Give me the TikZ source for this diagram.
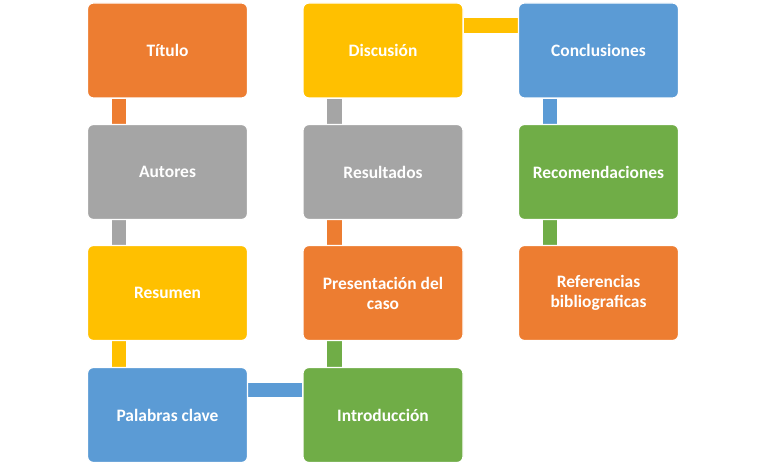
\documentclass[tikz,border=0pt]{standalone}
\usepackage{fontspec}
\setmainfont{Carlito}
\usetikzlibrary{backgrounds,calc}
\definecolor{cOrange}{HTML}{ED7D31}
\definecolor{cGray}{HTML}{A5A5A5}
\definecolor{cYellow}{HTML}{FFC000}
\definecolor{cBlue}{HTML}{5B9BD5}
\definecolor{cGreen}{HTML}{70AD47}
\tikzset{
  box/.style={rectangle, rounded corners=6bp, draw=white, line width=1.2bp,
    minimum width=160bp, minimum height=95bp, inner sep=2bp,
    text=white, align=center, font=\fontsize{17.5}{20}\selectfont\bfseries},
  link/.style={line width=14.5bp, line cap=butt}
}
\begin{document}
\begin{tikzpicture}[x=1bp,y=-1bp]
\useasboundingbox (0,0) rectangle (768,465);
\node[box, fill=cOrange] (titulo) at (167.5,50.5) {Título};
\node[box, fill=cGray]   (autores) at (167.5,172) {Autores};
\node[box, fill=cYellow] (resumen) at (167.5,293) {Resumen};
\node[box, fill=cBlue]   (palabras) at (167.5,415) {Palabras clave};
\node[box, fill=cGreen]  (intro) at (383,415) {Introducción};
\node[box, fill=cOrange] (present) at (383,293) {Presentación del\\caso};
\node[box, fill=cGray]   (result) at (383,172) {Resultados};
\node[box, fill=cYellow] (discu) at (383,50.5) {Discusión};
\node[box, fill=cBlue]   (concl) at (598.5,50.5) {Conclusiones};
\node[box, fill=cGreen]  (recom) at (598.5,172) {Recomendaciones};
\node[box, fill=cOrange] (refer) at (598.5,293) {Referencias\\bibliograficas};
\begin{scope}[on background layer]
\draw[link, cOrange] ($(titulo.south west)!0.2!(titulo.south east)$) -- ($(autores.north west)!0.2!(autores.north east)$);
\draw[link, cGray] ($(autores.south west)!0.2!(autores.south east)$) -- ($(resumen.north west)!0.2!(resumen.north east)$);
\draw[link, cYellow] ($(resumen.south west)!0.2!(resumen.south east)$) -- ($(palabras.north west)!0.2!(palabras.north east)$);
\draw[link, cBlue] ($(palabras.north east)!0.24!(palabras.south east)$) -- ($(intro.north west)!0.24!(intro.south west)$);
\draw[link, cGreen] ($(intro.north west)!0.2!(intro.north east)$) -- ($(present.south west)!0.2!(present.south east)$);
\draw[link, cOrange] ($(present.north west)!0.2!(present.north east)$) -- ($(result.south west)!0.2!(result.south east)$);
\draw[link, cGray] ($(result.north west)!0.2!(result.north east)$) -- ($(discu.south west)!0.2!(discu.south east)$);
\draw[link, cYellow] ($(discu.north east)!0.24!(discu.south east)$) -- ($(concl.north west)!0.24!(concl.south west)$);
\draw[link, cBlue] ($(concl.south west)!0.2!(concl.south east)$) -- ($(recom.north west)!0.2!(recom.north east)$);
\draw[link, cGreen] ($(recom.south west)!0.2!(recom.south east)$) -- ($(refer.north west)!0.2!(refer.north east)$);
\end{scope}
\end{tikzpicture}
\end{document}
